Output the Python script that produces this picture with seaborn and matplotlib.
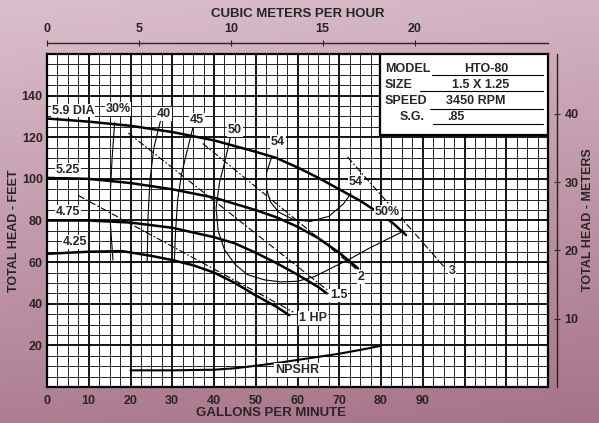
import numpy as np
import pandas as pd
import matplotlib
matplotlib.use("Agg")
import matplotlib.pyplot as plt
from matplotlib.patches import Rectangle
import seaborn as sns

# impeller curves (GPM vs feet)
gpm_59 = [0, 10, 20, 30, 40, 50, 55, 60, 65, 70, 75, 80, 83, 86]
head_59 = [129, 127.5, 125.5, 122.5, 118.5, 113, 110, 105.5, 100.5, 95, 89.5, 83, 78.5, 73]
gpm_525 = [0, 10, 20, 30, 40, 50, 55, 60, 65, 70, 74.5]
head_525 = [100.5, 100, 98, 95, 91, 85, 81.5, 77, 71.5, 64.5, 57]
gpm_475 = [0, 10, 20, 30, 40, 45, 50, 55, 60, 65, 67]
head_475 = [80, 80, 79, 76.5, 72, 69, 64.5, 59.5, 54, 48, 45]
gpm_425 = [0, 10, 18, 25, 30, 35, 40, 45, 50, 55, 58]
head_425 = [64, 65, 65.3, 63, 61, 58.5, 55, 50, 44, 38.5, 34.5]

npshr_gpm = [20, 30, 40, 45, 50, 55, 60, 65, 70, 75, 80]
npshr_ft = [8, 8, 8.3, 9, 10.2, 11.5, 13, 14.5, 16, 17.8, 19.8]

# efficiency lines
eff30_gpm = [16.2, 15.6, 15.2, 15.2, 15.8]
eff30_ft = [127, 110, 95, 78, 61]
eff40_gpm = [27.2, 25.6, 24.7, 24.2, 24.0]
eff40_ft = [128, 115, 100, 82, 60.5]
eff45_gpm = [35, 33.5, 32.2, 31.3, 30.8, 30.5]
eff45_ft = [125, 113, 102, 90, 75, 60]
eff50_gpm = [44.2, 42.8, 41.3, 40.5, 41, 42.5, 45, 48, 52, 56, 60, 64, 68.5, 73, 77, 81, 85.5]
eff50_ft = [122.5, 110, 98, 86, 75, 66, 59, 54, 51.5, 50.5, 50.8, 53, 57.5, 62, 66.5, 70.5, 75]
eff54_gpm = [53.8, 52.6, 52.6, 53.5, 55.5, 59, 63, 67.5, 71, 72.8]
eff54_ft = [110.5, 103, 95, 89, 84, 80.5, 79.5, 82, 88, 93]

# horsepower lines
hp_names = ["1 HP", "1.5", "2", "3"]
hp_gpm = [[7.5, 59], [19.5, 67.5], [37.3, 74.5], [72, 95]]
hp_ft = [[92, 36], [122, 46], [117, 56], [110.5, 58]]

gpm_ticks = [0, 10, 20, 30, 40, 50, 60, 70, 80, 90]
ft_ticks = [20, 40, 60, 80, 100, 120, 140]
m3h_ticks = [0, 5, 10, 15, 20]
m_ticks = [10, 20, 30, 40]

GPM_PER_M3H = 4.403
M_PER_FT = 0.3048

sns.set_style("white")
plt.rcParams["font.family"] = ["Liberation Sans", "DejaVu Sans"]
plt.rcParams["font.weight"] = "bold"

fig = plt.figure(figsize=(5.99, 4.23), dpi=100)

# mauve background
bg = fig.add_axes([0, 0, 1, 1], zorder=-5)
yy, xx = np.mgrid[0:1:200j, 0:1:200j]
top = np.array([0.86, 0.75, 0.80])
bot = np.array([0.65, 0.45, 0.53])
t = np.clip(yy * 0.85 + xx * 0.15, 0, 1)[..., None]
bg.imshow(top * (1 - t) + bot * t, aspect="auto", extent=[0, 1, 0, 1], origin="upper")
bg.axis("off")

ax = fig.add_axes([47 / 599, 36 / 423, 501 / 599, 333 / 423])
ax.set_facecolor("white")
ax.set_xlim(0, 120)
ax.set_ylim(0, 160)

ax.set_xticks(np.arange(0, 121, 10))
ax.set_xticks(np.arange(0, 121, 2.5), minor=True)
ax.set_yticks(np.arange(0, 161, 20))
ax.set_yticks(np.arange(0, 161, 5), minor=True)
ax.set_xticklabels([str(v) if v in gpm_ticks else "" for v in range(0, 121, 10)])
ax.set_yticklabels([str(v) if v in ft_ticks else "" for v in range(0, 161, 20)])
ax.grid(which="major", color="black", lw=1.3)
ax.grid(which="minor", color="#222222", lw=0.7)
ax.set_axisbelow(True)
ax.tick_params(which="both", length=0, labelsize=9)
ax.tick_params(axis="x", pad=6)
ax.tick_params(axis="y", pad=3)
for s in ax.spines.values():
    s.set_color("black")
    s.set_linewidth(1.6)

# head curves
for g, h in [(gpm_59, head_59), (gpm_525, head_525), (gpm_475, head_475), (gpm_425, head_425)]:
    sns.lineplot(x=g, y=h, ax=ax, color="black", lw=1.8, sort=False, estimator=None)

sns.lineplot(x=npshr_gpm, y=npshr_ft, ax=ax, color="black", lw=1.5, sort=False, estimator=None)

for g, h in [(eff30_gpm, eff30_ft), (eff40_gpm, eff40_ft), (eff45_gpm, eff45_ft),
             (eff50_gpm, eff50_ft), (eff54_gpm, eff54_ft)]:
    sns.lineplot(x=g, y=h, ax=ax, color="black", lw=0.8, sort=False, estimator=None)

for g, h in zip(hp_gpm, hp_ft):
    sns.lineplot(x=g, y=h, ax=ax, color="black", lw=0.8, sort=False, estimator=None,
                 dashes=False, linestyle=(0, (6, 2, 1.5, 2)))

box = dict(facecolor="white", edgecolor="none", pad=0.6)
labels = [
    ("5.9 DIA", 6.2, 132.8), ("5.25", 5, 104.3), ("4.75", 5, 84), ("4.25", 6.7, 69.5),
    ("30%", 17, 133.7), ("40", 28, 131), ("45", 35.9, 128.4), ("50", 45, 123.6),
    ("54", 55.3, 117.8), ("54", 74, 98.5), ("50%", 81.6, 84),
    ("3", 97, 55.5), ("2", 75.2, 53), ("1.5", 69.9, 44), ("1 HP", 63.7, 33.3),
    ("NPSHR", 59.8, 8.2),
]
for txt, x, y in labels:
    ax.text(x, y, txt, ha="center", va="center", fontsize=9, fontweight="bold",
            bbox=box, zorder=5)

# info box
ax.add_patch(Rectangle((79.7, 121.2), 40.3, 38.8, facecolor="white", edgecolor="black",
                       lw=1.6, zorder=4))
rows = [("MODEL", 80.9, 153, "HTO-80", 105.3, 92.1, 149.7),
        ("SIZE", 80.9, 144.9, "1.5 X 1.25", 103.9, 89.3, 142),
        ("SPEED", 80.9, 137.6, "3450 RPM", 102.7, 91.7, 133.8),
        ("S.G.", 84.5, 129.9, ".85", 98.0, 92.4, 126.5)]
for name, nx, ny, val, vx, lx, ly in rows:
    ax.text(nx, ny, name, ha="left", va="center", fontsize=9, fontweight="bold", zorder=6)
    ax.text(vx, ny, val, ha="center", va="center", fontsize=9, fontweight="bold", zorder=6)
    ax.plot([lx, 118.8], [ly, ly], color="black", lw=0.8, zorder=6)

# secondary scales
top_ax = ax.secondary_xaxis(1 + 11 / 333, functions=(lambda x: x / GPM_PER_M3H,
                                                     lambda x: x * GPM_PER_M3H))
top_ax.set_xticks(m3h_ticks)
top_ax.tick_params(direction="inout", length=5, labelsize=9, pad=3)
top_ax.spines["top"].set_linewidth(1.0)

right_ax = ax.secondary_yaxis(1 + 9 / 501, functions=(lambda y: y * M_PER_FT,
                                                      lambda y: y / M_PER_FT))
right_ax.set_yticks(m_ticks)
right_ax.tick_params(direction="inout", length=5, labelsize=9, pad=3)
right_ax.spines["right"].set_linewidth(1.0)

fig.text(298 / 599, 1 - 14 / 423, "CUBIC METERS PER HOUR", ha="center", va="center",
         fontsize=9.5, fontweight="bold")
fig.text(271 / 599, 1 - 413 / 423, "GALLONS PER MINUTE", ha="center", va="center",
         fontsize=9.5, fontweight="bold")
fig.text(14 / 599, 1 - 231 / 423, "TOTAL HEAD - FEET", ha="center", va="center",
         rotation=90, fontsize=9, fontweight="bold")
fig.text(588 / 599, 1 - 220 / 423, "TOTAL HEAD - METERS", ha="center", va="center",
         rotation=90, fontsize=9, fontweight="bold")

fig.savefig("out.png", dpi=100)
